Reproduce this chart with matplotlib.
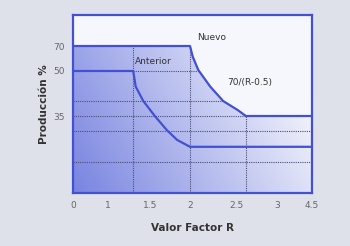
import numpy as np
import matplotlib
matplotlib.use("Agg")
import matplotlib.pyplot as plt
from matplotlib.patches import Polygon

# axis tick values and where they sit (pixels in the original picture)
x_tick_vals = [0, 1, 1.5, 2, 2.5, 3, 4.5]
x_tick_labels = ["0", "1", "1.5", "2", "2.5", "3", "4.5"]
x_tick_px = [73, 108, 150, 190, 236, 277, 312]

y_tick_vals = [35, 50, 70]
y_tick_labels = ["35", "50", "70"]
y_map_vals = [0, 35, 50, 70, 95]
y_map_px = [0, 77, 122, 147, 178]

# curves
nuevo_R = [0, 2.0, 2.03, 2.09, 2.22, 2.36, 2.52, 2.62, 4.5]
nuevo_P = [70, 70, 61.4, 50.8, 44.8, 40, 37, 35, 35]
anterior_R = [0, 1.30, 1.33, 1.42, 1.56, 1.71, 1.84, 2.0, 4.5]
anterior_P = [50, 50, 44.8, 40, 35, 28.6, 24.1, 21, 21]

# dashed guide lines
h_grid = [(50, 1.30, 2.1), (40, 0, 2.36), (35, 0, 2.62), (28, 0, 4.5), (14, 0, 4.5)]
v_grid = [(1.30, 0, 70), (2.0, 0, 70), (2.62, 0, 35)]

blue = "#4350d2"
bg = "#dfe1ea"


def fx(r):
    return np.interp(r, x_tick_vals, x_tick_px)


def ifx(p):
    return np.interp(p, x_tick_px, x_tick_vals)


def fy(v):
    return np.interp(v, y_map_vals, y_map_px)


def ify(p):
    return np.interp(p, y_map_px, y_map_vals)


fig = plt.figure(figsize=(3.5, 2.46), dpi=100)
fig.patch.set_facecolor(bg)
ax = fig.add_axes([73 / 350, 1 - 193 / 246, 239 / 350, 178 / 246])
ax.set_xscale("function", functions=(fx, ifx))
ax.set_yscale("function", functions=(fy, ify))
ax.set_xlim(0, 4.5)
ax.set_ylim(0, 95)
ax.set_facecolor("#f6f7fc")

# gradient fill under the Nuevo curve
gx, gy = np.meshgrid(np.linspace(0, 1, 200), np.linspace(1, 0, 150))
f = np.clip(0.85 * gx + 0.35 * gy, 0, 1)[..., None]
dark = np.array([0x78, 0x84, 0xe0]) / 255
light = np.array([0xf0, 0xf1, 0xfb]) / 255
img = dark * (1 - f) + light * f
im = ax.imshow(img, extent=[0, 1, 0, 1], transform=ax.transAxes, aspect="auto", zorder=1)
poly = Polygon(list(zip(nuevo_R, nuevo_P)) + [(4.5, 0), (0, 0)], closed=True,
               transform=ax.transData, facecolor="none", edgecolor="none")
ax.add_patch(poly)
im.set_clip_path(poly)

for yv, x0, x1 in h_grid:
    ax.plot([x0, x1], [yv, yv], color="#4a4f78", lw=0.8, ls=(0, (1, 1)), zorder=2)
for xv, y0, y1 in v_grid:
    ax.plot([xv, xv], [y0, y1], color="#4a4f78", lw=0.8, ls=(0, (1, 1)), zorder=2)

ax.plot(nuevo_R, nuevo_P, color=blue, lw=1.6, zorder=3, solid_joinstyle="round")
ax.plot(anterior_R, anterior_P, color=blue, lw=1.6, zorder=3, solid_joinstyle="round")

for s in ax.spines.values():
    s.set_color(blue)
    s.set_linewidth(1.6)

fnt = ["Liberation Sans Narrow", "DejaVu Sans"]
ax.text(2.08, 77, "Nuevo", fontsize=6.5, color="#333333", family=fnt, va="center")
ax.text(1.32, 57.2, "Anterior", fontsize=6.5, color="#333333", family=fnt, va="center")
ax.text(2.40, 46.2, "70/(R-0.5)", fontsize=6.5, color="#333333", family=fnt, va="center")

ax.set_xticks(x_tick_vals)
ax.set_xticklabels(x_tick_labels, fontsize=6.5, color="#666666", family=fnt)
ax.set_yticks(y_tick_vals)
ax.set_yticklabels(y_tick_labels, fontsize=6.5, color="#666666", family=fnt)
ax.tick_params(length=0, pad=6)
ax.minorticks_off()

ax.set_xlabel("Valor Factor R", fontsize=7.5, fontweight="bold", color="#333333",
              family=fnt, labelpad=9)
ax.set_ylabel("Producción %", fontsize=7.5, fontweight="bold", color="#333333",
              family=fnt, labelpad=3)

fig.savefig("out.png", dpi=100, facecolor=bg)
